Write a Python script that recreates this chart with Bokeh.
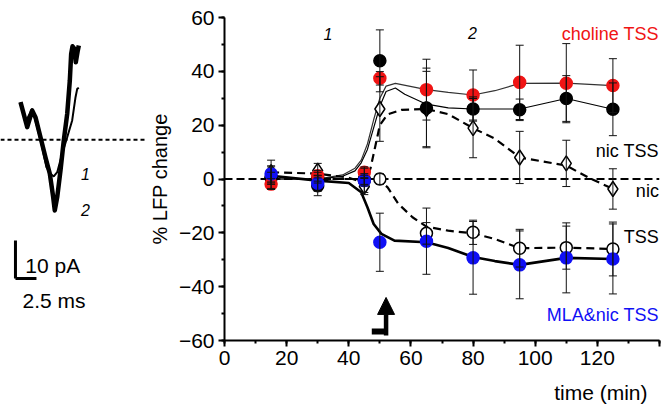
from bokeh.plotting import figure
from bokeh.layouts import row
from bokeh.models import (Range1d, SingleIntervalTicker, Label, Span, Whisker, TeeHead,
                          ColumnDataSource, Arrow, NormalHead, Title)
from bokeh.embed import file_html
from bokeh.resources import INLINE

FONT = "Liberation Sans"
RED = "#f01414"
BLUE = "#1010f5"

# ---------------- data ----------------
time_min = [15, 30, 45, 50, 65, 80, 95, 110, 125]

choline_tss = [-1.9, 1.2, 2.5, 37.4, 33.2, 31.2, 35.9, 35.6, 34.7]
choline_tss_err = [2.0, 2.0, 2.0, 2.5, 11.3, 9.3, 13.8, 14.7, 10.0]

nic_tss = [0.5, -2.5, -0.5, 43.9, 26.4, 26.0, 25.7, 29.9, 25.9]
nic_tss_err = [4.0, 3.7, 4.5, 11.5, 14.8, 4.5, 4.0, 8.5, 9.8]

nic = [2.5, 3.1, -2.8, 26.0, 26.0, 18.9, 8.0, 5.8, -3.7]
nic_err = [4.5, 2.7, 3.0, 12.0, 14.0, 11.0, 9.7, 8.6, 7.5]

tss = [0.5, 0.5, 0.0, 0.0, -20.2, -19.8, -25.7, -25.5, -26.0]
tss_err = [2.0, 2.0, 2.0, 2.0, 4.0, 4.5, 7.0, 8.0, 10.0]

mla_nic_tss = [1.9, -1.6, -0.6, -23.5, -23.1, -29.3, -31.9, -29.3, -29.7]
mla_nic_tss_err = [3.0, 3.0, 2.0, 10.8, 12.3, 13.5, 12.6, 13.0, 13.0]

# fitted curves
choline_fit_t = [15, 30, 38, 42, 44, 46, 48, 50, 52, 55, 59, 65, 72, 80, 87, 95, 110, 125]
choline_fit_v = [0, 0, 1.5, 4, 7, 13, 22, 30, 34.5, 35.5, 34.6, 33.2, 32.2, 31.2, 32.8, 35.5, 35.6, 34.7]

nic_tss_fit_t = [15, 30, 38, 42, 44, 46, 48, 50, 52, 55, 58, 65, 72, 80, 87, 95, 110, 125]
nic_tss_fit_v = [0, 0, 1, 3, 6, 11, 19, 27, 32.5, 33.8, 31.5, 27.8, 26.4, 26, 26, 26, 29.9, 25.9]

nic_fit_t = [15, 30, 40, 45, 47, 48.5, 50, 52.5, 57, 65, 72, 80, 87, 95, 110, 117, 125]
nic_fit_v = [2.5, 2, 0.5, -1.5, 4, 12, 20, 24, 25.7, 26, 24.1, 18.9, 15, 8, 5, 0.6, -3.7]

tss_fit_t = [15, 30, 45, 50, 52.5, 56, 60.5, 65, 72, 80, 87, 95, 110, 125]
tss_fit_v = [0, 0, 0, -0.5, -3.1, -9.3, -14.2, -17.7, -19.2, -20.2, -22.3, -25.7, -25.5, -26]

mla_fit_t = [15, 30, 40, 44, 46, 48, 50.5, 54.7, 65, 72, 80, 87, 95, 110, 125]
mla_fit_v = [1.2, -0.6, -1.5, -4.9, -10.5, -16.7, -20.4, -22.9, -23.5, -25.6, -29.0, -30.5, -31.9, -29.3, -29.7]

# inset current traces (ms, pA)
trace2_ms = [1.43, 2.23, 2.82, 3.21, 3.81, 4.40, 4.92, 5.32, 5.51, 5.80, 6.19, 6.58, 6.99, 7.30,
             7.46, 7.62, 7.86, 8.01, 8.25, 8.37]
trace2_pa = [9.89, 3.32, 7.71, 5.95, 0.68, -4.58, -8.95, -15.1, -18.6, -15.1, -8.08, -0.18, 6.84,
             15.6, 22.6, 24.6, 23.9, 20.4, 23.5, 24.8]
trace1_ms = [1.43, 2.02, 2.82, 3.42, 4.01, 4.52, 5.00, 5.39, 5.80, 6.39, 6.99, 7.58, 7.98, 8.18, 8.37]
trace1_pa = [9.89, 4.63, 8.16, 3.32, -1.95, -7.21, -8.95, -9.66, -8.53, -3.68, 0.68, 5.08, 11.2,
             13.4, 13.7]

# ---------------- inset ----------------
left = figure(width=145, height=418, x_range=Range1d(-0.952, 16.31), y_range=Range1d(-52.82, 32.18),
              output_backend="svg", toolbar_location=None, x_axis_type=None, y_axis_type=None,
              min_border_left=0, min_border_right=0, min_border_top=17, min_border_bottom=78,
              outline_line_color=None)
left.grid.visible = False
left.line(trace1_ms, trace1_pa, line_color="black", line_width=2)
left.line(trace2_ms, trace2_pa, line_color="black", line_width=4.5, line_join="round")
left.add_layout(Span(location=0, dimension="width", line_color="black", line_width=2,
                     line_dash="4 3"))
left.add_layout(Arrow(x_start=0.83, y_start=-26.5, x_end=0.83, y_end=-36.5, start=None, end=None,
                      line_width=3, line_color="black"))
left.add_layout(Arrow(x_start=0.83, y_start=-36.5, x_end=3.33, y_end=-36.5, start=None, end=None,
                      line_width=3, line_color="black"))
for txt, xx, yy, fs, st in [("1", 9.17, -8.95, "16px", "italic"), ("2", 9.17, -18.6, "16px", "italic"),
                            ("10 pA", 2.0, -33.1, "21px", "normal"), ("2.5 ms", 1.67, -42.3, "21px", "normal")]:
    left.add_layout(Label(x=xx, y=yy, text=txt, text_font=FONT, text_font_size=fs,
                          text_font_style=st, text_align="left" if len(txt) > 1 else "center",
                          text_baseline="middle", text_color="black"))

# ---------------- main ----------------
p = figure(width=527, height=418, x_range=Range1d(0, 140), y_range=Range1d(-60, 60),
           output_backend="svg", toolbar_location=None, min_border_left=78, min_border_right=13,
           min_border_top=17, min_border_bottom=78, outline_line_color=None)
p.grid.visible = False
p.xaxis.ticker = SingleIntervalTicker(interval=20, num_minor_ticks=2)
p.yaxis.ticker = SingleIntervalTicker(interval=20, num_minor_ticks=2)
p.xaxis.major_label_overrides = {140: ""}
for ax in (p.xaxis[0], p.yaxis[0]):
    ax.axis_line_width = 2
    ax.major_tick_line_width = 2
    ax.minor_tick_line_width = 2
    ax.major_tick_out = 6
    ax.major_tick_in = 0
    ax.minor_tick_out = 3
    ax.minor_tick_in = 0
    ax.major_label_text_font = FONT
    ax.major_label_text_font_size = "21px"
    ax.major_label_text_color = "black"
    ax.major_label_standoff = 4
p.yaxis.axis_label = "% LFP change"
p.yaxis.axis_label_text_font = FONT
p.yaxis.axis_label_text_font_size = "20px"
p.yaxis.axis_label_text_font_style = "normal"
p.yaxis.axis_label_text_color = "black"
p.yaxis.axis_label_standoff = 5

p.add_layout(Title(text="time (min)", align="right", text_font=FONT, text_font_size="21px",
                   text_font_style="normal", text_color="black", offset=12, standoff=23), "below")

p.add_layout(Span(location=0, dimension="width", line_color="black", line_width=2,
                  line_dash="8 4", level="underlay"))

# fits
p.line(choline_fit_t, choline_fit_v, line_color="#333333", line_width=1.2)
p.line(nic_tss_fit_t, nic_tss_fit_v, line_color="black", line_width=1.2)
p.line(nic_fit_t, nic_fit_v, line_color="black", line_width=2.2, line_dash="8 5")
p.line(tss_fit_t, tss_fit_v, line_color="black", line_width=2.2, line_dash="8 5")
p.line(mla_fit_t, mla_fit_v, line_color="black", line_width=2.6)

series = [
    (nic, nic_err, "diamond", "white", "black", 15),
    (tss, tss_err, "circle", "white", "black", 12),
    (nic_tss, nic_tss_err, "circle", "black", "black", 12),
    (choline_tss, choline_tss_err, "circle", RED, RED, 12),
    (mla_nic_tss, mla_nic_tss_err, "circle", BLUE, BLUE, 12),
]
for vals, errs, marker, fill, line, size in series:
    src = ColumnDataSource(dict(t=time_min, v=vals,
                                lo=[a - b for a, b in zip(vals, errs)],
                                hi=[a + b for a, b in zip(vals, errs)]))
    p.scatter("t", "v", source=src, marker=marker, size=size, fill_color=fill,
              line_color=line, line_width=1.5)
    p.add_layout(Whisker(source=src, base="t", lower="lo", upper="hi", line_color="#111111",
                         line_width=1, level="overlay",
                         upper_head=TeeHead(size=8, line_color="#111111", line_width=1),
                         lower_head=TeeHead(size=8, line_color="#111111", line_width=1)))

# arrow
p.add_layout(Arrow(x_start=52, y_start=-58.1, x_end=52, y_end=-44, line_width=4.5,
                   line_color="black",
                   end=NormalHead(size=17, fill_color="black", line_color="black")))
p.add_layout(Arrow(x_start=47.4, y_start=-56.7, x_end=52.6, y_end=-56.7, start=None, end=None,
                   line_width=6, line_color="black", line_cap="butt"))

def lab(txt, x, y, color="black", size="18px", align="right", style="normal"):
    p.add_layout(Label(x=x, y=y, text=txt, text_font=FONT, text_font_size=size,
                       text_color=color, text_align=align, text_baseline="middle",
                       text_font_style=style))

lab("1", 33.3, 53.8, size="16px", align="center", style="italic")
lab("2", 79.8, 54.2, size="16px", align="center", style="italic")
lab("choline TSS", 139.8, 53.9, color=RED)
lab("nic TSS", 139.8, 10.5)
lab("nic", 139.8, -4.4)
lab("TSS", 139.8, -21.7)
lab("MLA&nic TSS", 139.8, -50.7, color=BLUE)

layout = row(left, p)
open("out.html", "w").write(file_html(layout, INLINE))
